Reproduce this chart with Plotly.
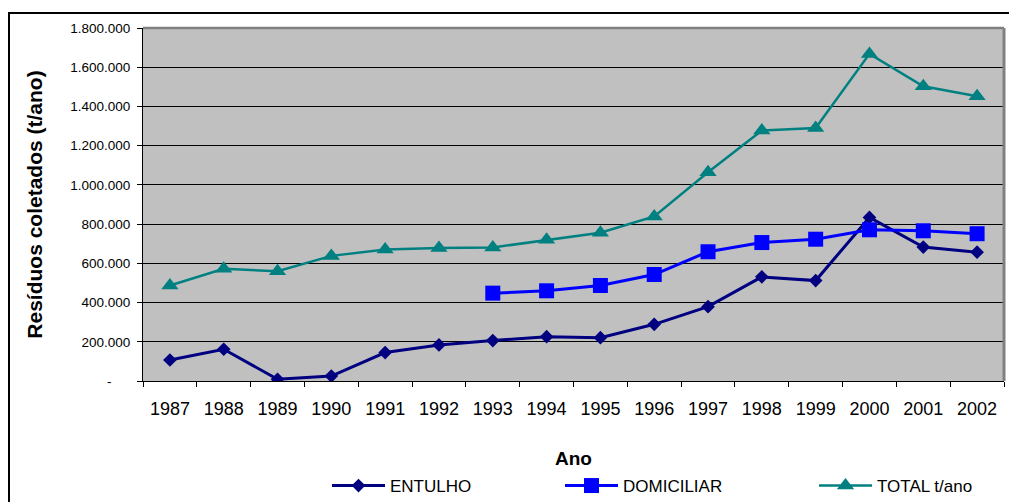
import plotly.graph_objects as go

# Collected waste per year (t/ano)
anos = ["1987", "1988", "1989", "1990", "1991", "1992", "1993", "1994",
        "1995", "1996", "1997", "1998", "1999", "2000", "2001", "2002"]

entulho = [107000, 162000, 9000, 25000, 145000, 184000, 206000, 226000,
           221000, 289000, 379000, 531000, 512000, 834000, 683000, 657000]

domiciliar = [None, None, None, None, None, None, 448000, 460000,
              487000, 543000, 659000, 706000, 723000, 771000, 766000, 751000]

total = [487000, 572000, 560000, 638000, 671000, 678000, 681000, 720000,
         756000, 839000, 1064000, 1277000, 1290000, 1668000, 1503000, 1452000]

y_ticks = [0, 200000, 400000, 600000, 800000, 1000000, 1200000, 1400000,
           1600000, 1800000]
# zero is written as a dash, padded on the right like an accounting format
y_tick_text = ["-<span style='color:rgba(0,0,0,0)'>00.</span>", "200.000",
               "400.000", "600.000", "800.000", "1.000.000", "1.200.000",
               "1.400.000", "1.600.000", "1.800.000"]

FONT = "Arial, Liberation Sans, sans-serif"
W, H = 1009, 502
L, R, T, B = 143, 5, 28, 121
PW, PH = W - L - R, H - T - B


def px_x(px):
    """Pixel column -> paper x."""
    return (px - L) / PW


def px_y(py):
    """Pixel row -> paper y."""
    return (H - B - py) / PH


fig = go.Figure()

fig.add_trace(go.Scatter(
    x=anos, y=entulho, name="ENTULHO", mode="lines+markers",
    line=dict(color="#000080", width=3),
    marker=dict(symbol="diamond", size=10.5, color="#000080"),
    legend="legend",
))
fig.add_trace(go.Scatter(
    x=anos, y=domiciliar, name="DOMICILIAR", mode="lines+markers",
    line=dict(color="#0000FF", width=3),
    marker=dict(symbol="square", size=15, color="#0000FF"),
    legend="legend2",
))
fig.add_trace(go.Scatter(
    x=anos, y=total, name="TOTAL t/ano", mode="lines+markers",
    line=dict(color="#008080", width=2.5),
    marker=dict(symbol="triangle-up", size=15, color="#008080"),
    legend="legend3",
))

legend_common = dict(
    xref="paper", yref="paper", yanchor="middle", xanchor="left",
    bgcolor="rgba(0,0,0,0)", borderwidth=0, itemwidth=53,
    font=dict(family=FONT, size=17, color="black"),
)
leg_y = px_y(486)

fig.update_layout(
    width=W, height=H,
    margin=dict(l=L, r=R, t=T, b=B, autoexpand=False),
    paper_bgcolor="white",
    plot_bgcolor="#C0C0C0",
    font=dict(family=FONT, color="black"),
    showlegend=True,
    legend=dict(x=px_x(327), y=leg_y, **legend_common),
    legend2=dict(x=px_x(560), y=leg_y, **legend_common),
    legend3=dict(x=px_x(814), y=leg_y, **legend_common),
    xaxis=dict(
        type="category", range=[-0.5, 15.5], automargin=False,
        tickson="boundaries", ticks="outside", ticklen=5, tickcolor="black",
        tickangle=0, ticklabelstandoff=11,
        showline=True, linecolor="black", linewidth=1,
        showgrid=False, zeroline=False,
        tickfont=dict(family=FONT, size=18),
        title=dict(text="<b>Ano</b>", font=dict(family=FONT, size=19), standoff=34),
    ),
    yaxis=dict(
        range=[0, 1800000], tickvals=y_ticks, ticktext=y_tick_text,
        automargin=False,
        ticks="outside", ticklen=5, tickcolor="black",
        ticklabelstandoff=4,
        showline=True, linecolor="black", linewidth=1,
        showgrid=True, gridcolor="black", gridwidth=1, zeroline=False,
        tickfont=dict(family=FONT, size=13.5),
        title=dict(text="<b>Resíduos coletados (t/ano)</b>",
                   font=dict(family=FONT, size=21), standoff=21),
    ),
    shapes=[
        # gray frame on the top and right of the plot area
        dict(type="line", xref="paper", yref="paper", x0=0, x1=1, y0=1, y1=1,
             line=dict(color="#808080", width=2.5)),
        dict(type="line", xref="paper", yref="paper", x0=1, x1=1, y0=0, y1=1,
             line=dict(color="#808080", width=3)),
        # outer chart border
        dict(type="rect", xref="paper", yref="paper",
             x0=px_x(9), x1=1.2, y0=-1.0, y1=px_y(13),
             line=dict(color="black", width=2)),
    ],
)

fig.write_html("out.html")
